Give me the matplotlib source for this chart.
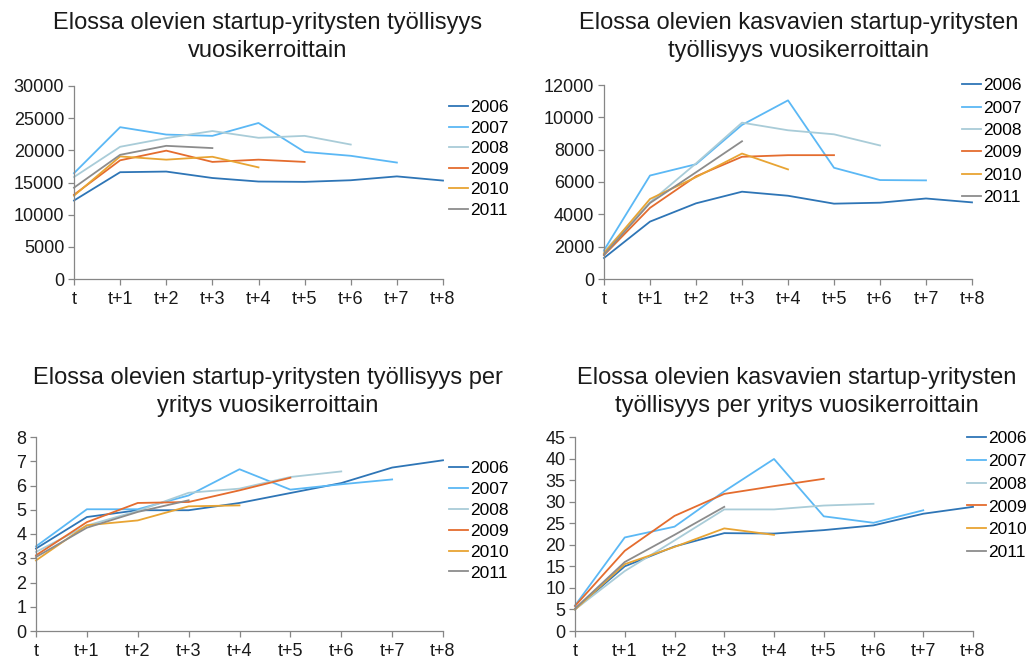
import numpy as np
import matplotlib
matplotlib.use("Agg")
import matplotlib.pyplot as plt

plt.rcParams['font.family'] = ['Liberation Sans', 'DejaVu Sans']

periods = ['t', 't+1', 't+2', 't+3', 't+4', 't+5', 't+6', 't+7', 't+8']
years = ['2006', '2007', '2008', '2009', '2010', '2011']
colors = ['#2E75B6', '#5BB8F5', '#A9CCD8', '#E46C2E', '#E8A433', '#8C8C8C']

# Elossa olevien startup-yritysten tyollisyys
emp_2006 = [12200, 16600, 16700, 15700, 15150, 15100, 15350, 15950, 15300]
emp_2007 = [16450, 23600, 22450, 22250, 24250, 19750, 19150, 18100]
emp_2008 = [15850, 20550, 21900, 23000, 21950, 22250, 20900]
emp_2009 = [13100, 18450, 19950, 18200, 18550, 18200]
emp_2010 = [12950, 19050, 18550, 19000, 17350]
emp_2011 = [14200, 19300, 20700, 20350]

# Elossa olevien kasvavien startup-yritysten tyollisyys
grow_2006 = [1300, 3550, 4680, 5400, 5150, 4660, 4720, 4980, 4740]
grow_2007 = [1780, 6400, 7100, 9530, 11050, 6880, 6120, 6100]
grow_2008 = [1690, 4750, 7150, 9670, 9200, 8950, 8260]
grow_2009 = [1480, 4400, 6350, 7560, 7660, 7660]
grow_2010 = [1590, 4950, 6300, 7760, 6780]
grow_2011 = [1500, 4700, 6600, 8520]

# Tyollisyys per yritys
per_2006 = [3.40, 4.70, 4.98, 4.98, 5.28, 5.69, 6.10, 6.74, 7.04]
per_2007 = [3.49, 5.02, 5.02, 5.59, 6.67, 5.83, 6.05, 6.25]
per_2008 = [3.26, 4.35, 4.95, 5.70, 5.87, 6.35, 6.58]
per_2009 = [3.12, 4.49, 5.28, 5.32, 5.80, 6.32]
per_2010 = [2.91, 4.36, 4.56, 5.14, 5.18]
per_2011 = [3.05, 4.26, 4.91, 5.39]

# Kasvavien tyollisyys per yritys
gper_2006 = [5.0, 15.0, 19.6, 22.7, 22.6, 23.4, 24.5, 27.2, 28.8]
gper_2007 = [5.9, 21.7, 24.2, 32.4, 39.9, 26.6, 25.1, 28.0]
gper_2008 = [5.0, 13.9, 21.0, 28.2, 28.2, 29.1, 29.5]
gper_2009 = [5.8, 18.6, 26.7, 31.8, 33.6, 35.3]
gper_2010 = [5.0, 15.5, 19.5, 23.8, 22.3]
gper_2011 = [5.2, 16.0, 22.3, 28.8]

panels = [
    ([emp_2006, emp_2007, emp_2008, emp_2009, emp_2010, emp_2011],
     30000, 5000, "Elossa olevien startup-yritysten työllisyys\nvuosikerroittain"),
    ([grow_2006, grow_2007, grow_2008, grow_2009, grow_2010, grow_2011],
     12000, 2000, "Elossa olevien kasvavien startup-yritysten\ntyöllisyys vuosikerroittain"),
    ([per_2006, per_2007, per_2008, per_2009, per_2010, per_2011],
     8, 1, "Elossa olevien startup-yritysten työllisyys per\nyritys vuosikerroittain"),
    ([gper_2006, gper_2007, gper_2008, gper_2009, gper_2010, gper_2011],
     45, 5, "Elossa olevien kasvavien startup-yritysten\ntyöllisyys per yritys vuosikerroittain"),
]

W, H = 1031, 660
# axes boxes in pixels: left, right, top, bottom
boxes = [(74, 443, 86, 279), (604, 972, 85, 279), (36, 443, 437, 631), (575, 973, 437, 631)]
title_pos = [(268, 37), (799, 37), (268, 392), (797, 392)]
legend_pos = [(449, 100, 0.31), (962, 78, 0.42), (449, 461, 0.33), (967, 431, 0.44)]

fig = plt.figure(figsize=(W / 100, H / 100), dpi=100)

for (series, ymax, ystep, title), (l, r, t, b), (tx, ty), (lx, ly, ls) in zip(
        panels, boxes, title_pos, legend_pos):
    ax = fig.add_axes([l / W, 1 - b / H, (r - l) / W, (b - t) / H])
    for vals, c, y in zip(series, colors, years):
        ax.plot(np.arange(len(vals)), vals, color=c, lw=1.3, label=y, clip_on=False)
    ax.set_xlim(0, 8)
    ax.set_ylim(0, ymax)
    ax.set_xticks(np.arange(len(periods)))
    ax.set_xticklabels(periods)
    ax.set_yticks(np.arange(0, ymax + ystep / 2, ystep))
    for s in ['top', 'right']:
        ax.spines[s].set_visible(False)
    for s in ['left', 'bottom']:
        ax.spines[s].set_color('#868686')
        ax.spines[s].set_linewidth(0.9)
    ax.tick_params(axis='both', labelsize=13, colors='#868686', labelcolor='#1a1a1a',
                   length=4, width=0.9, direction='out', pad=3)
    ax.tick_params(axis='x', pad=5)
    fig.text(tx / W, 1 - ty / H, title, ha='center', va='center', fontsize=17,
             linespacing=1.3, color='#1a1a1a')
    ax.legend(loc='upper left', bbox_to_anchor=(lx / W, 1 - ly / H),
              bbox_transform=fig.transFigure, frameon=False, fontsize=12.5,
              handlelength=1.1, handletextpad=0.1, labelspacing=ls, borderaxespad=0,
              borderpad=0)

fig.savefig("out.png", dpi=100)
